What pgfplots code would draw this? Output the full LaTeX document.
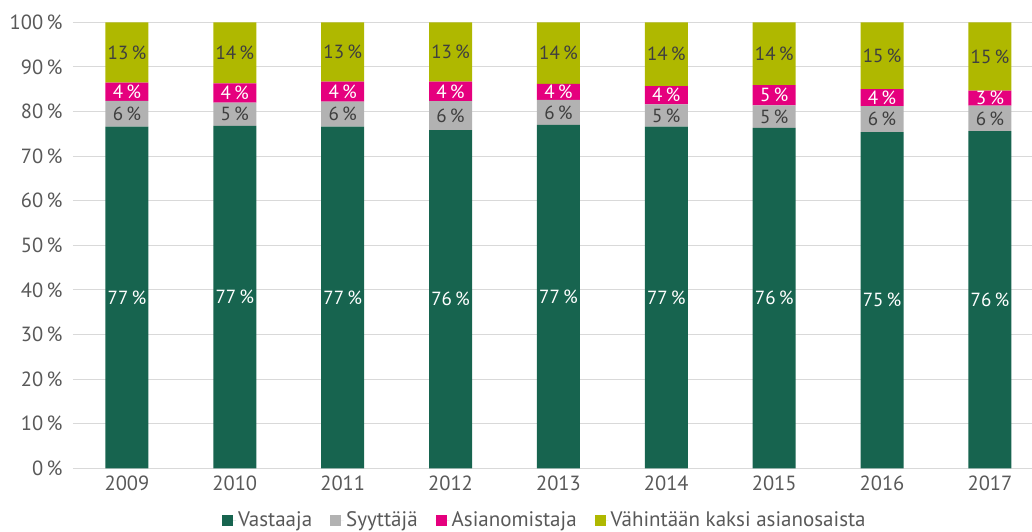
\documentclass[border=0pt]{standalone}
\usepackage{fontspec}
\setmainfont{PT Sans}
\usepackage{pgfplots}
\pgfplotsset{compat=1.18}
\definecolor{cV}{HTML}{17644F}
\definecolor{cS}{HTML}{B2B2B2}
\definecolor{cA}{HTML}{E5007E}
\definecolor{cK}{HTML}{AFB800}
\definecolor{txt}{HTML}{595959}
\definecolor{lbl}{HTML}{3F3F3F}
\definecolor{gridc}{HTML}{D9D9D9}
\pgfplotsset{
  common/.style={
    width=959pt, height=446pt, scale only axis,
    xmin=-0.5, xmax=8.39, ymin=0, ymax=100,
  },
  lab/.style={draw=none, mark=none, point meta=explicit symbolic, nodes near coords,
    every node near coord/.append style={anchor=center, font=\fontsize{19}{21}\selectfont, text=#1}},
}
\begin{document}
\begin{tikzpicture}
\begin{axis}[common,
  ybar stacked, bar width=43pt,
  xtick={0,...,8}, xticklabels={2009,2010,2011,2012,2013,2014,2015,2016,2017},
  ytick={0,10,...,100}, yticklabel={\pgfmathprintnumber{\tick}\,\%},
  /pgf/number format/assume math mode=true,
  axis line style={draw=none}, major tick length=0pt,
  ymajorgrids, grid style={draw=gridc, line width=1pt},
  tick label style={font=\fontsize{20.5}{23}\selectfont, text=txt},
  yticklabel style={xshift=-7pt},
  xticklabel style={yshift=-4pt},
  legend style={at={(0.492,-0.116)}, anchor=center, draw=none, legend columns=4,
    font=\fontsize{21}{24}\selectfont, text=txt,
    /tikz/every even column/.append style={column sep=16pt}},
  legend cell align=left,
  legend image code/.code={\fill[#1] (0pt,-5.5pt) rectangle (11pt,5.5pt); \path (0pt,0pt) -- (14pt,0pt);},
]
\addplot[fill=cV, draw=none] coordinates {(0,76.6) (1,76.8) (2,76.6) (3,75.8) (4,77.0) (5,76.6) (6,76.3) (7,75.4) (8,75.6)};
\addplot[fill=cS, draw=none] coordinates {(0,5.8) (1,5.2) (2,5.6) (3,6.5) (4,5.6) (5,5.0) (6,5.1) (7,5.8) (8,5.7)};
\addplot[fill=cA, draw=none] coordinates {(0,4.1) (1,4.3) (2,4.5) (3,4.4) (4,3.6) (5,4.1) (6,4.5) (7,3.8) (8,3.4)};
\addplot[fill=cK, draw=none] coordinates {(0,13.5) (1,13.7) (2,13.3) (3,13.3) (4,13.8) (5,14.3) (6,14.1) (7,15.0) (8,15.3)};
\legend{Vastaaja, Syyttäjä, Asianomistaja, Vähintään kaksi asianosaista}
\coordinate (sw) at (rel axis cs:0,0);
\coordinate (ne) at (rel axis cs:1,1);
\end{axis}
\begin{axis}[common, hide axis]
\addplot[lab=white] coordinates {(0,38.3)[77\,\%] (1,38.4)[77\,\%] (2,38.3)[77\,\%] (3,37.9)[76\,\%] (4,38.5)[77\,\%] (5,38.3)[77\,\%] (6,38.15)[76\,\%] (7,37.7)[75\,\%] (8,37.8)[76\,\%]};
\addplot[lab=lbl] coordinates {(0,79.5)[6\,\%] (1,79.4)[5\,\%] (2,79.4)[6\,\%] (3,79.05)[6\,\%] (4,79.8)[6\,\%] (5,79.1)[5\,\%] (6,78.85)[5\,\%] (7,78.3)[6\,\%] (8,78.45)[6\,\%]};
\addplot[lab=white] coordinates {(0,84.45)[4\,\%] (1,84.15)[4\,\%] (2,84.45)[4\,\%] (3,84.5)[4\,\%] (4,84.4)[4\,\%] (5,83.65)[4\,\%] (6,83.65)[5\,\%] (7,83.1)[4\,\%] (8,83.0)[3\,\%]};
\addplot[lab=lbl] coordinates {(0,93.25)[13\,\%] (1,93.15)[14\,\%] (2,93.35)[13\,\%] (3,93.35)[13\,\%] (4,93.1)[14\,\%] (5,92.85)[14\,\%] (6,92.95)[14\,\%] (7,92.5)[15\,\%] (8,92.35)[15\,\%]};
\end{axis}
\pgfresetboundingbox
\path[use as bounding box] ([shift={(-73pt,-63.7pt)}]sw) rectangle ([shift={(0pt,22.3pt)}]ne);
\end{tikzpicture}
\end{document}
